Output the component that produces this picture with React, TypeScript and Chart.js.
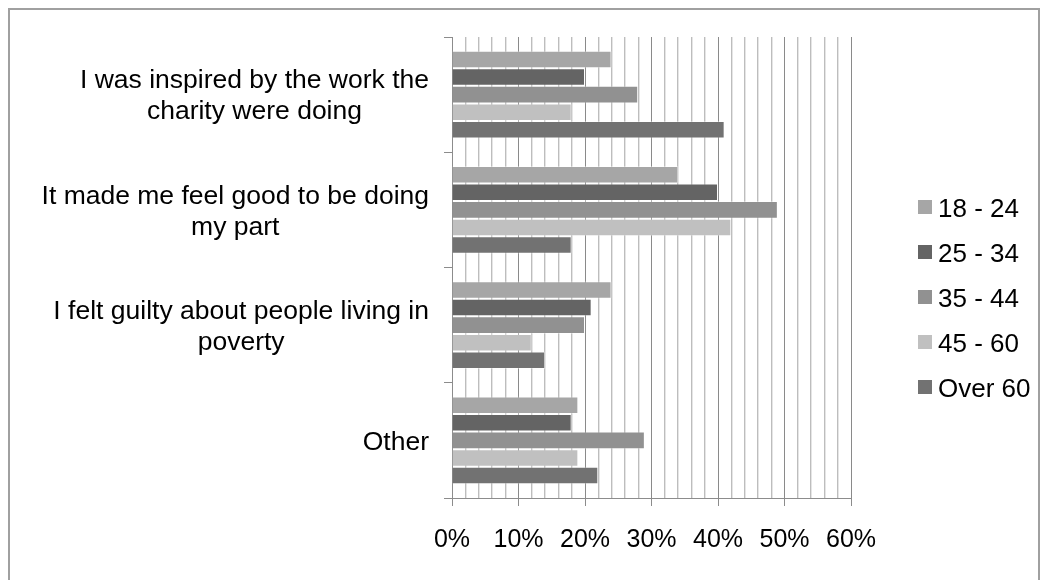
import React, { useEffect, useRef } from "react";
import { Chart, registerables } from "chart.js";

Chart.register(...registerables);

// ---- data ----
const categories: string[][] = [
  ["I was inspired by the work the", "charity were doing"],
  ["It made me feel good to be doing", "my part"],
  ["I felt guilty about people living in", "poverty"],
  ["Other"],
];
const seriesNames = ["18 - 24", "25 - 34", "35 - 44", "45 - 60", "Over 60"];
const age18to24 = [24, 34, 24, 19];
const age25to34 = [20, 40, 21, 18];
const age35to44 = [28, 49, 20, 29];
const age45to60 = [18, 42, 12, 19];
const over60 = [41, 18, 14, 22];
const seriesValues = [age18to24, age25to34, age35to44, age45to60, over60];
const seriesColors = ["#a6a6a6", "#646464", "#919191", "#c0c0c0", "#727272"];
const xMin = 0;
const xMax = 60;
const xMinorStep = 2;
const xMajorStep = 10;

const FONT = "'Liberation Sans', Arial, sans-serif";

const categoryLabelPlugin = {
  id: "categoryLabels",
  afterDraw(chart: any) {
    const ctx = chart.ctx;
    const yScale = chart.scales.y;
    const rightEdge = chart.chartArea.left - 23;
    const lineH = 31;
    ctx.save();
    ctx.font = `26.5px ${FONT}`;
    ctx.fillStyle = "#000";
    ctx.textAlign = "center";
    ctx.textBaseline = "middle";
    (chart.data.labels as string[][]).forEach((lines, i) => {
      const yc = yScale.getPixelForValue(i) + 2;
      const maxW = Math.max(...lines.map((l) => ctx.measureText(l).width));
      const cx = rightEdge - maxW / 2;
      const y0 = yc - ((lines.length - 1) * lineH) / 2;
      lines.forEach((l, k) => ctx.fillText(l, cx, y0 + k * lineH));
    });
    ctx.restore();
  },
};

const legendPlugin = {
  id: "sideLegend",
  afterDraw(chart: any) {
    const ctx = chart.ctx;
    const boxX = chart.chartArea.right + 67;
    const textX = boxX + 20;
    const firstY = 200;
    const step = 45;
    ctx.save();
    ctx.font = `26px ${FONT}`;
    ctx.textAlign = "left";
    ctx.textBaseline = "middle";
    chart.data.datasets.forEach((ds: any, i: number) => {
      const y = firstY + i * step;
      ctx.fillStyle = ds.backgroundColor;
      ctx.fillRect(boxX, y - 10, 14, 14);
      ctx.fillStyle = "#000";
      ctx.fillText(ds.label, textX, y);
    });
    ctx.restore();
  },
};

export default function App() {
  const ref = useRef<HTMLCanvasElement>(null);
  useEffect(() => {
    if (!ref.current) return;
    const chart = new Chart(ref.current, {
      type: "bar",
      data: {
        labels: categories as any,
        datasets: seriesNames.map((name, i) => ({
          label: name,
          data: seriesValues[i],
          backgroundColor: seriesColors[i],
          borderColor: "rgba(255,255,255,0.35)",
          borderWidth: 1,
          categoryPercentage: 0.76,
          barPercentage: 1,
        })),
      },
      options: {
        indexAxis: "y",
        animation: false,
        responsive: false,
        devicePixelRatio: 1,
        layout: { padding: { top: 27, right: 187, bottom: 12, left: 0 } },
        plugins: {
          legend: { display: false },
          tooltip: { enabled: false },
        },
        scales: {
          x: {
            min: xMin,
            max: xMax,
            border: { color: "#8c8c8c", width: 1 },
            grid: {
              color: (c: any) =>
                c.tick && c.tick.value % xMajorStep === 0 ? "#8a8a8a" : "#bdbdbd",
              tickColor: (c: any) =>
                c.tick && c.tick.value % xMajorStep === 0 ? "#8c8c8c" : "rgba(0,0,0,0)",
              tickLength: 8,
              lineWidth: (c: any) =>
                c.tick && c.tick.value % xMajorStep === 0 ? 1 : 1.4,
            },
            ticks: {
              stepSize: xMinorStep,
              autoSkip: false,
              maxRotation: 0,
              padding: 19,
              color: "#000",
              font: { family: FONT, size: 25 },
              callback: (v: any) => (Number(v) % xMajorStep === 0 ? `${v}%` : ""),
            },
            afterFit: (s: any) => {
              s.height = 70;
            },
          },
          y: {
            border: { color: "#8c8c8c", width: 1 },
            grid: {
              drawOnChartArea: false,
              tickLength: 8,
              color: "#8c8c8c",
            },
            ticks: { display: false },
            afterFit: (s: any) => {
              s.width = 442;
            },
          },
        },
      },
      plugins: [categoryLabelPlugin, legendPlugin],
    });
    return () => chart.destroy();
  }, []);

  return (
    <div
      style={{
        width: 1028,
        height: 570,
        border: "2px solid #a0a0a0",
        borderBottom: "none",
        background: "#fff",
      }}
    >
      <canvas ref={ref} width={1028} height={570} style={{ display: "block" }} />
    </div>
  );
}
